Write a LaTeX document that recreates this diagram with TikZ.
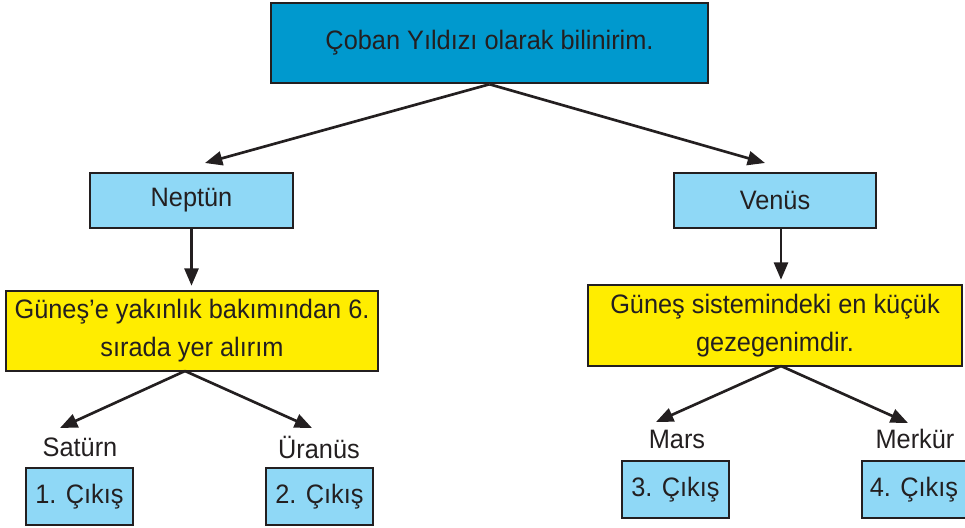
\documentclass[tikz,border=0pt]{standalone}
\usepackage{fontspec}
\setmainfont[FakeStretch=0.95]{Liberation Sans}
\usetikzlibrary{arrows.meta}
\definecolor{topblue}{RGB}{0,153,206}
\definecolor{lightblue}{RGB}{143,216,246}
\definecolor{boxyellow}{RGB}{255,237,0}
\definecolor{edge}{RGB}{35,31,32}
\begin{document}
\begin{tikzpicture}[x=0.75pt,y=-0.75pt,
  box/.style={draw=edge,line width=1.9pt,rectangle,inner sep=0pt,align=center,
    font=\fontsize{20pt}{28.5pt}\selectfont,text=edge},
  lbl/.style={inner sep=0pt,font=\fontsize{20pt}{28.5pt}\selectfont,text=edge},
  arr/.style={draw=edge,line width=2pt,-{Triangle[length=13pt,width=10.5pt]}}]
\useasboundingbox (0,0) rectangle (965,528);
% boxes
\node[box,fill=topblue,minimum width=327.75pt,minimum height=60pt] (top) at (489.5,43) {Çoban Yıldızı olarak bilinirim.};
\node[box,fill=lightblue,minimum width=152.25pt,minimum height=41.25pt] (nep) at (191.5,200.5) {Neptün};
\node[box,fill=lightblue,minimum width=151.5pt,minimum height=41.25pt] (ven) at (775,200.5) {Venüs};
\node[box,fill=boxyellow,minimum width=279pt,minimum height=60pt] (yl) at (192,331) {Güneş’e yakınlık bakımından 6.\\sırada yer alırım};
\node[box,fill=boxyellow,minimum width=280.5pt,minimum height=60.75pt] (yr) at (775,325.5) {Güneş sistemindeki en küçük\\gezegenimdir.};
\node[box,fill=lightblue,minimum width=80.25pt,minimum height=42.75pt] (c1) at (79.5,496.5) {1. Çıkış};
\node[box,fill=lightblue,minimum width=80.25pt,minimum height=42.75pt] (c2) at (319.5,496.5) {2. Çıkış};
\node[box,fill=lightblue,minimum width=80.25pt,minimum height=42.75pt] (c3) at (675.5,489.5) {3. Çıkış};
\node[box,fill=lightblue,minimum width=78pt,minimum height=42.75pt] (c4) at (914,489.5) {4. Çıkış};
% labels
\node[lbl] (sat) at (80,447) {Satürn};
\node[lbl] (ura) at (319,447) {Üranüs};
\node[lbl] (mar) at (677,439) {Mars};
\node[lbl] (mer) at (915,439) {Merkür};
% arrow ends
\coordinate (tl) at (205,163);
\coordinate (tr) at (765,163);
\coordinate (ysat) at (60,428);
\coordinate (yura) at (312,428);
\coordinate (ymar) at (656,422);
\coordinate (ymer) at (908,423);
\coordinate (ylo) at (185,371);
\coordinate (yro) at (781,366);
% connectors
\draw[arr] (top.south) -- (tl);
\draw[arr] (top.south) -- (tr);
\draw[arr,shorten >=3pt] (nep.south) -- (nep.south |- yl.north);
\draw[arr,shorten >=3pt] ([xshift=4.5pt]ven.south) -- ([xshift=4.5pt]ven.south |- yr.north);
\draw[arr] (ylo) -- (ysat);
\draw[arr] (ylo) -- (yura);
\draw[arr] (yro) -- (ymar);
\draw[arr] (yro) -- (ymer);
\end{tikzpicture}
\end{document}
